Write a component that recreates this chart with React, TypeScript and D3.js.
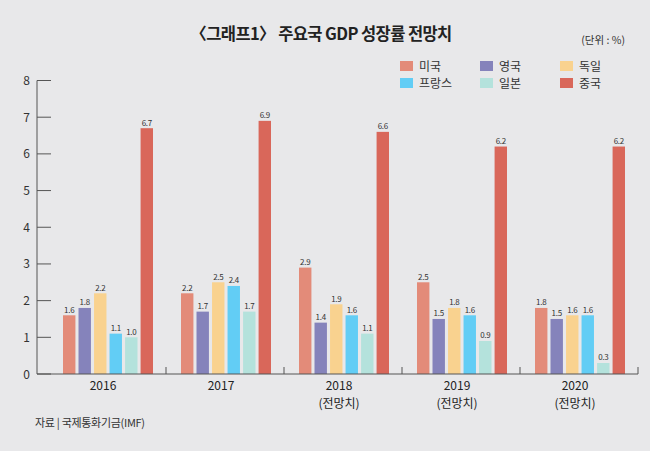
import React from 'react';
import * as d3 from 'd3';

// 단위: %
const years = ['2016', '2017', '2018', '2019', '2020'];
const yearNotes = ['', '', '(전망치)', '(전망치)', '(전망치)'];
const countries = ['미국', '영국', '독일', '프랑스', '일본', '중국'];
const usa = [1.6, 2.2, 2.9, 2.5, 1.8];
const uk = [1.8, 1.7, 1.4, 1.5, 1.5];
const germany = [2.2, 2.5, 1.9, 1.8, 1.6];
const france = [1.1, 2.4, 1.6, 1.6, 1.6];
const japan = [1.0, 1.7, 1.1, 0.9, 0.3];
const china = [6.7, 6.9, 6.6, 6.2, 6.2];
const yTicks = [0, 1, 2, 3, 4, 5, 6, 7, 8];

const colors = ['#e38b79', '#8583bb', '#f9d28f', '#62cdf5', '#b4e2dc', '#d9675a'];
const seriesValues = [usa, uk, germany, france, japan, china];

const W = 650;
const H = 451;
const FONT = '"Noto Sans CJK KR", "Noto Sans", sans-serif';

const App: React.FC = () => {
    const axisX = 37;
    const x = d3.scaleBand<string>().domain(years).range([48, 638]).padding(0);
    const inner = d3.scaleBand<string>().domain(countries).range([15, 105]).paddingInner(0.2);
    const y = d3.scaleLinear().domain([0, 8]).range([374, 80.5]);

    // 범례 배치 (3열 x 2행)
    const legendCol = [400, 480, 560];
    const legendRow = [66, 83];

    return (
        <svg width={W} height={H} style={{ position: 'absolute', left: 0, top: 0 }} fontFamily={FONT}>
            <rect x={0} y={0} width={W} height={H} fill="#e8e8ea" />

            <text x={321} y={40} textAnchor="middle" fontSize={16.5} fontWeight={700} fill="#222" letterSpacing={-0.6}>
                〈그래프1〉 주요국 GDP 성장률 전망치
            </text>
            <text x={625} y={44} textAnchor="end" fontSize={10.5} fill="#333">(단위 : %)</text>

            {countries.map((c, i) => {
                const cx = legendCol[i % 3];
                const cy = legendRow[Math.floor(i / 3)];
                return (
                    <g key={c}>
                        <rect x={cx} y={cy - 5} width={13} height={10} fill={colors[i]} />
                        <text x={cx + 19} y={cy + 4.5} fontSize={12} fill="#333">{c}</text>
                    </g>
                );
            })}

            {/* y axis */}
            <line x1={axisX} x2={axisX} y1={y(8)} y2={y(0)} stroke="#555" strokeWidth={1} />
            {yTicks.map(t => (
                <g key={t}>
                    <line x1={axisX} x2={axisX + 14} y1={y(t)} y2={y(t)} stroke="#555" strokeWidth={1} />
                    <text x={30} y={y(t) + 4.5} textAnchor="end" fontSize={12} fill="#333">{t}</text>
                </g>
            ))}

            {/* bars */}
            {years.map((yr, gi) => (
                <g key={yr} transform={`translate(${x(yr)},0)`}>
                    {countries.map((c, si) => {
                        const v = seriesValues[si][gi];
                        const bx = inner(c) as number;
                        return (
                            <g key={c}>
                                <rect x={bx} y={y(v)} width={inner.bandwidth()} height={y(0) - y(v)} fill={colors[si]} />
                                <text x={bx + inner.bandwidth() / 2} y={y(v) - 2.5} textAnchor="middle" fontSize={8} fill="#333" letterSpacing={-0.3}>
                                    {v.toFixed(1)}
                                </text>
                            </g>
                        );
                    })}
                </g>
            ))}

            {/* x axis */}
            <line x1={axisX} x2={638} y1={y(0)} y2={y(0)} stroke="#555" strokeWidth={1} />
            {years.map(yr => {
                const bx = (x(yr) as number) + x.bandwidth();
                return <line key={yr} x1={bx} x2={bx} y1={y(0) - 7} y2={y(0)} stroke="#555" strokeWidth={1} />;
            })}
            {years.map((yr, i) => {
                const cx = (x(yr) as number) + x.bandwidth() / 2 - 4;
                return (
                    <g key={yr}>
                        <text x={cx} y={390} textAnchor="middle" fontSize={12} fill="#222">{yr}</text>
                        {yearNotes[i] && (
                            <text x={cx} y={408} textAnchor="middle" fontSize={12} fill="#222">{yearNotes[i]}</text>
                        )}
                    </g>
                );
            })}

            <text x={35} y={427} fontSize={11} fill="#333" letterSpacing={-0.3}>자료 | 국제통화기금(IMF)</text>
        </svg>
    );
};

export default App;
